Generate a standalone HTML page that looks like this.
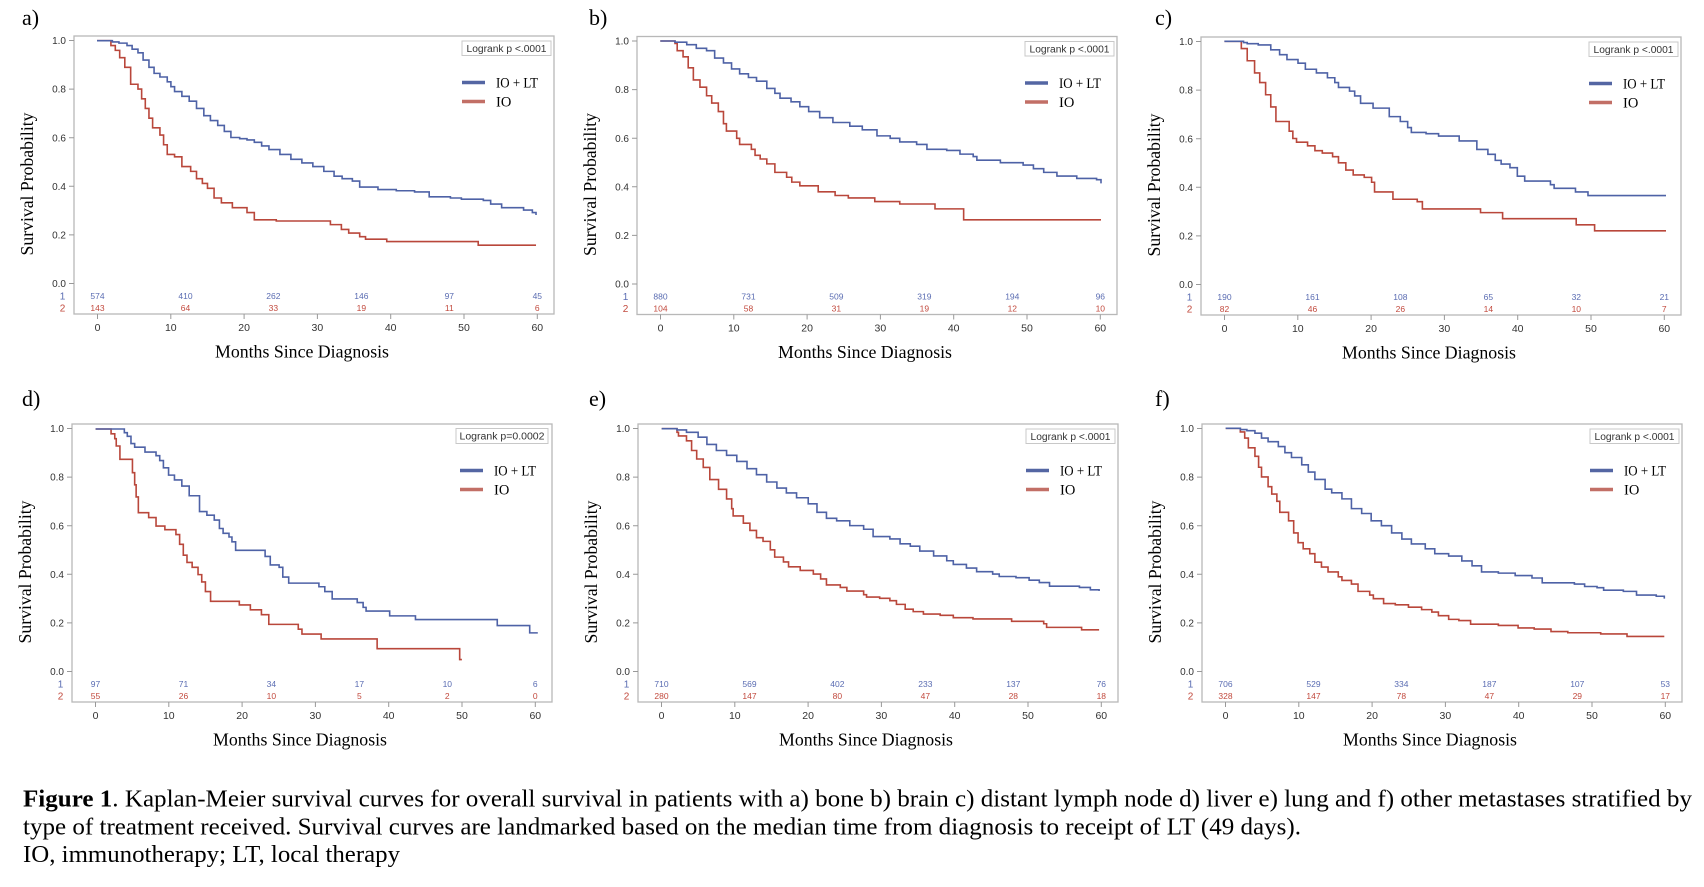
<!DOCTYPE html>
<html>
<head>
<meta charset="utf-8">
<style>
  html,body{margin:0;padding:0;background:#fff;}
  svg{display:block;}
  .tk{font-family:"Liberation Sans",Arial,sans-serif;font-size:10px;fill:#333;}
  .xt{font-family:"Liberation Sans",Arial,sans-serif;font-size:10.5px;fill:#333;text-anchor:middle;}
  .ar{font-family:"Liberation Sans",Arial,sans-serif;font-size:8.5px;text-anchor:middle;}
  .rl{font-family:"Liberation Sans",Arial,sans-serif;font-size:10px;text-anchor:middle;}
  .lg{font-family:"Liberation Sans",Arial,sans-serif;font-size:10px;fill:#333;text-anchor:middle;}
  .ser{font-family:"Liberation Serif","Times New Roman",serif;fill:#000;}
  .b{fill:#5a6cb2;} .r{fill:#c24a3e;}
  .cb{fill:none;stroke:#4e62a6;stroke-width:1.6;}
  .cr{fill:none;stroke:#b9473b;stroke-width:1.6;}
</style>
</head>
<body>
<svg width="1704" height="887" viewBox="0 0 1704 887" xmlns="http://www.w3.org/2000/svg">
<defs>
  <g id="axes">
    <rect x="0" y="0" width="480" height="278" fill="none" stroke="#b8b8b8" stroke-width="1.3"/>
    <path d="M-5 4.5H0M-5 53.1H0M-5 101.7H0M-5 150.3H0M-5 198.9H0M-5 247.5H0" stroke="#999" stroke-width="1"/>
    <path d="M23.5 278v5M96.8 278v5M170.1 278v5M243.4 278v5M316.7 278v5M390 278v5M463.3 278v5" stroke="#999" stroke-width="1"/>
    <text class="tk" text-anchor="end" x="-8" y="8.1">1.0</text>
    <text class="tk" text-anchor="end" x="-8" y="56.7">0.8</text>
    <text class="tk" text-anchor="end" x="-8" y="105.3">0.6</text>
    <text class="tk" text-anchor="end" x="-8" y="153.9">0.4</text>
    <text class="tk" text-anchor="end" x="-8" y="202.5">0.2</text>
    <text class="tk" text-anchor="end" x="-8" y="251.1">0.0</text>
    <text class="xt" x="23.5" y="295">0</text>
    <text class="xt" x="96.8" y="295">10</text>
    <text class="xt" x="170.1" y="295">20</text>
    <text class="xt" x="243.4" y="295">30</text>
    <text class="xt" x="316.7" y="295">40</text>
    <text class="xt" x="390" y="295">50</text>
    <text class="xt" x="463.3" y="295">60</text>
    <text class="rl b" x="-11.5" y="263.5">1</text>
    <text class="rl r" x="-11.5" y="275.5">2</text>
    <path d="M388 46.5H411" stroke="#5466a3" stroke-width="3.5"/>
    <path d="M388 65.5H411" stroke="#c26f66" stroke-width="3.5"/>
    <text class="ser" x="422" y="51.5" font-size="14.5" textLength="42" lengthAdjust="spacingAndGlyphs">IO + LT</text>
    <text class="ser" x="422" y="70.5" font-size="14.5">IO</text>
    <text class="ser" transform="translate(-41,148) rotate(-90)" text-anchor="middle" font-size="17.5" textLength="143" lengthAdjust="spacingAndGlyphs">Survival Probability</text>
    <text class="ser" x="228" y="321.5" text-anchor="middle" font-size="17.5" textLength="174" lengthAdjust="spacingAndGlyphs">Months Since Diagnosis</text>
  </g>
</defs>

<!-- Panel letters -->
<text class="ser" x="22" y="25" font-size="22">a)</text>
<text class="ser" x="589" y="25" font-size="22">b)</text>
<text class="ser" x="1155" y="25" font-size="22">c)</text>
<text class="ser" x="22" y="406" font-size="22">d)</text>
<text class="ser" x="589" y="406" font-size="22">e)</text>
<text class="ser" x="1155" y="406" font-size="22">f)</text>

<!-- Panel a -->
<g transform="translate(74,36)">
  <use href="#axes"/>
  <rect x="388" y="5" width="89" height="14.5" fill="#fff" stroke="#c8c8c8" stroke-width="1"/>
  <text class="lg" x="432.5" y="15.8" textLength="80" lengthAdjust="spacingAndGlyphs">Logrank p &lt;.0001</text>
  <g class="b">
    <text class="ar" x="23.5" y="263">574</text><text class="ar" x="111.5" y="263">410</text><text class="ar" x="199.4" y="263">262</text><text class="ar" x="287.4" y="263">146</text><text class="ar" x="375.3" y="263">97</text><text class="ar" x="463.3" y="263">45</text>
  </g>
  <g class="r">
    <text class="ar" x="23.5" y="275">143</text><text class="ar" x="111.5" y="275">64</text><text class="ar" x="199.4" y="275">33</text><text class="ar" x="287.4" y="275">19</text><text class="ar" x="375.3" y="275">11</text><text class="ar" x="463.3" y="275">6</text>
  </g>
  <g transform="translate(23,246.7) scale(7.317,-242)">
    <path class="cr" vector-effect="non-scaling-stroke" d="M0 1H1.9V.98H2.5V.96H3.1V.93H3.8V.89H4.6V.82H5.6V.8H6.1V.76H6.6V.72H7.1V.68H7.6V.64H8.6V.61H9.1V.57H9.6V.53H10.6V.52H11.6V.48H12.8V.46H13.6V.43H14.4V.41H15.1V.39H16V.35H17V.33H18.5V.31H20.5V.29H21.5V.26H24.5V.255H31.9V.24H33.4V.22H34.4V.205H35.9V.19H36.7V.18H39.6V.17H52.1V.155H60"/>
    <path class="cb" vector-effect="non-scaling-stroke" d="M0 1H2.1V.995H3V.99H4.1V.98H4.8V.965H5.6V.95H6.3V.92H7.1V.89H7.8V.865H8.6V.85H9.6V.83H10.1V.81H10.6V.79H11.6V.77H12.6V.75H13.6V.72H14.6V.69H15.5V.67H16.5V.65H17.4V.625H18.3V.6H19.5V.595H20.5V.59H21.5V.58H22.5V.565H23.5V.55H25V.53H26.5V.51H28V.495H29.5V.48H31V.46H32.4V.44H33.5V.43H34.9V.42H35.9V.395H38.4V.385H40.9V.38H43.4V.375H45.4V.355H48.3V.35H49.8V.345H52.8V.34H53.8V.325H55.3V.31H58.3V.3H59.5V.29H60V.28"/>
  </g>
</g>

<!-- Panel b -->
<g transform="translate(637,36.5)">
  <use href="#axes"/>
  <rect x="388" y="5" width="89" height="14.5" fill="#fff" stroke="#c8c8c8" stroke-width="1"/>
  <text class="lg" x="432.5" y="15.8" textLength="80" lengthAdjust="spacingAndGlyphs">Logrank p &lt;.0001</text>
  <g class="b">
    <text class="ar" x="23.5" y="263">880</text><text class="ar" x="111.5" y="263">731</text><text class="ar" x="199.4" y="263">509</text><text class="ar" x="287.4" y="263">319</text><text class="ar" x="375.3" y="263">194</text><text class="ar" x="463.3" y="263">96</text>
  </g>
  <g class="r">
    <text class="ar" x="23.5" y="275">104</text><text class="ar" x="111.5" y="275">58</text><text class="ar" x="199.4" y="275">31</text><text class="ar" x="287.4" y="275">19</text><text class="ar" x="375.3" y="275">12</text><text class="ar" x="463.3" y="275">10</text>
  </g>
  <g transform="translate(23.3,247.8) scale(7.345,-243.3)">
    <path class="cr" vector-effect="non-scaling-stroke" d="M0 1H2V.99H2.3V.96H3.1V.935H3.8V.89H4.5V.84H5.4V.81H6.3V.775H7V.745H7.9V.71H8.6V.66H9V.63H10.4V.6H10.8V.575H12.4V.555H12.9V.53H13.6V.515H14.5V.495H15.6V.46H17.2V.44H17.9V.42H19V.405H21.5V.38H23.8V.365H25.6V.355H29.2V.34H32.6V.33H37.4V.31H41.3V.265H60"/>
    <path class="cb" vector-effect="non-scaling-stroke" d="M0 1H2V.995H3.6V.985H4.9V.97H6.3V.96H7.4V.93H8.6V.91H9.7V.885H10.8V.865H12V.85H13.1V.835H14.5V.805H15.6V.785H16.3V.765H17.8V.75H19V.73H20.2V.71H21.7V.685H23.5V.665H25.8V.65H27.5V.635H29.5V.61H31.3V.6H32.6V.585H34.9V.575H36.3V.555H39V.55H40.8V.535H42.6V.525H43.1V.51H46.3V.5H49.4V.49H50.8V.475H52.2V.46H54V.445H56.7V.435H59.4V.43H60V.415"/>
  </g>
</g>

<!-- Panel c -->
<g transform="translate(1201,37)">
  <use href="#axes"/>
  <rect x="388" y="5" width="89" height="14.5" fill="#fff" stroke="#c8c8c8" stroke-width="1"/>
  <text class="lg" x="432.5" y="15.8" textLength="80" lengthAdjust="spacingAndGlyphs">Logrank p &lt;.0001</text>
  <g class="b">
    <text class="ar" x="23.5" y="263">190</text><text class="ar" x="111.5" y="263">161</text><text class="ar" x="199.4" y="263">108</text><text class="ar" x="287.4" y="263">65</text><text class="ar" x="375.3" y="263">32</text><text class="ar" x="463.3" y="263">21</text>
  </g>
  <g class="r">
    <text class="ar" x="23.5" y="275">82</text><text class="ar" x="111.5" y="275">46</text><text class="ar" x="199.4" y="275">26</text><text class="ar" x="287.4" y="275">14</text><text class="ar" x="375.3" y="275">10</text><text class="ar" x="463.3" y="275">7</text>
  </g>
  <g transform="translate(23.4,247.3) scale(7.36,-243)">
    <path class="cr" vector-effect="non-scaling-stroke" d="M0 1H2.3V.97H3.1V.92H4.1V.87H4.8V.83H5.6V.78H6.3V.73H7V.67H8.8V.63H9.3V.6H9.8V.585H11.3V.57H12.3V.55H13.3V.54H14.7V.525H15.5V.5H16.5V.47H17.5V.45H19V.44H20V.42H20.4V.38H22.9V.35H26.2V.34H26.9V.31H34.8V.295H37.8V.27H47.8V.245H50.3V.22H60"/>
    <path class="cb" vector-effect="non-scaling-stroke" d="M0 1H2.6V.995H3.1V.99H4.6V.985H6.3V.965H7.5V.945H8.5V.925H10V.91H11V.885H12.5V.87H14V.85H15V.83H15.5V.81H17V.795H17.7V.775H18.5V.745H20.2V.725H22.4V.69H23.9V.67H24.9V.645H25.4V.625H27.4V.62H29.1V.61H31.9V.59H34.3V.555H35.8V.535H36.8V.51H37.6V.495H38.8V.48H39.8V.445H40.8V.425H44.3V.41H44.8V.395H47.7V.38H49.4V.365H60"/>
  </g>
</g>

<!-- Panel d -->
<g transform="translate(72,424)">
  <use href="#axes"/>
  <rect x="384" y="4.5" width="92" height="15" fill="#fff" stroke="#c8c8c8" stroke-width="1"/>
  <text class="lg" x="430" y="15.6" textLength="85" lengthAdjust="spacingAndGlyphs">Logrank p=0.0002</text>
  <g class="b">
    <text class="ar" x="23.5" y="263">97</text><text class="ar" x="111.5" y="263">71</text><text class="ar" x="199.4" y="263">34</text><text class="ar" x="287.4" y="263">17</text><text class="ar" x="375.3" y="263">10</text><text class="ar" x="463.3" y="263">6</text>
  </g>
  <g class="r">
    <text class="ar" x="23.5" y="275">55</text><text class="ar" x="111.5" y="275">26</text><text class="ar" x="199.4" y="275">10</text><text class="ar" x="287.4" y="275">5</text><text class="ar" x="375.3" y="275">2</text><text class="ar" x="463.3" y="275">0</text>
  </g>
  <g transform="translate(23.6,247.7) scale(7.37,-242.7)">
    <path class="cr" vector-effect="non-scaling-stroke" d="M0 1H2.1V.98H2.6V.96H2.8V.93H3.3V.875H5V.82H5.3V.77H5.5V.72H5.8V.655H7.2V.635H8.2V.6H9.4V.585H10.9V.565H11.4V.525H11.9V.48H12.4V.45H13.1V.43H13.9V.4H14.4V.37H14.9V.33H15.6V.29H19.5V.275H21V.255H22.5V.235H23.5V.195H27.5V.175H28V.155H30.6V.135H38.2V.095H49.4V.05H49.7"/>
    <path class="cb" vector-effect="non-scaling-stroke" d="M0 1H3.9V.985H4.3V.97H4.8V.94H5.3V.925H6.7V.905H8.2V.89H8.7V.87H9.2V.84H9.9V.81H10.7V.79H11.7V.765H12.7V.725H14.1V.66H15.1V.645H16.1V.625H16.8V.59H17.3V.57H18.1V.555H18.5V.535H19V.5H23V.475H23.7V.44H24.9V.43H25.4V.39H26.2V.365H30.3V.35H31.1V.33H32.1V.3H35.5V.285H36.3V.265H36.7V.25H39.9V.23H43.4V.215H54.5V.19H58.9V.16H60"/>
  </g>
</g>

<!-- Panel e -->
<g transform="translate(638,424)">
  <use href="#axes"/>
  <rect x="388" y="5" width="89" height="14.5" fill="#fff" stroke="#c8c8c8" stroke-width="1"/>
  <text class="lg" x="432.5" y="15.8" textLength="80" lengthAdjust="spacingAndGlyphs">Logrank p &lt;.0001</text>
  <g class="b">
    <text class="ar" x="23.5" y="263">710</text><text class="ar" x="111.5" y="263">569</text><text class="ar" x="199.4" y="263">402</text><text class="ar" x="287.4" y="263">233</text><text class="ar" x="375.3" y="263">137</text><text class="ar" x="463.3" y="263">76</text>
  </g>
  <g class="r">
    <text class="ar" x="23.5" y="275">280</text><text class="ar" x="111.5" y="275">147</text><text class="ar" x="199.4" y="275">80</text><text class="ar" x="287.4" y="275">47</text><text class="ar" x="375.3" y="275">28</text><text class="ar" x="463.3" y="275">18</text>
  </g>
  <g transform="translate(23.7,247) scale(7.29,-242.3)">
    <path class="cr" vector-effect="non-scaling-stroke" d="M0 1H2.1V.985H2.3V.97H3.4V.95H4.1V.91H4.8V.875H5.7V.84H6.6V.79H7.8V.75H8.9V.71H9.6V.67H9.8V.64H11.2V.61H12.1V.58H13V.55H13.9V.535H14.9V.5H15.5V.47H16.7V.45H17.4V.43H19V.415H20.8V.4H21.8V.38H22.6V.355H24.5V.345H25.4V.33H27.7V.315H28.1V.305H29.9V.3H31.3V.29H32.2V.275H33.4V.255H34.5V.245H35.9V.235H38.2V.23H40V.22H42.7V.215H48V.205H52.4V.195H52.8V.18H57.6V.17H60"/>
    <path class="cb" vector-effect="non-scaling-stroke" d="M0 1H2.1V.995H3.4V.985H5V.965H6.2V.935H7.5V.91H8.9V.89H10.3V.865H11.7V.835H13V.81H14.4V.78H15.8V.755H17.1V.735H18.5V.715H20.1V.69H21.3V.655H22.6V.63H24V.62H25.8V.6H27.7V.585H29V.555H31.3V.545H32.7V.525H34.1V.515H35.4V.495H37.3V.475H39.1V.455H40V.44H41.8V.425H43.2V.41H45.4V.4H46.3V.39H48.6V.385H50.4V.375H51.8V.365H53.2V.35H57.3V.345H58.8V.335H60V.33"/>
  </g>
</g>

<!-- Panel f -->
<g transform="translate(1202,424)">
  <use href="#axes"/>
  <rect x="388" y="5" width="89" height="14.5" fill="#fff" stroke="#c8c8c8" stroke-width="1"/>
  <text class="lg" x="432.5" y="15.8" textLength="80" lengthAdjust="spacingAndGlyphs">Logrank p &lt;.0001</text>
  <g class="b">
    <text class="ar" x="23.5" y="263">706</text><text class="ar" x="111.5" y="263">529</text><text class="ar" x="199.4" y="263">334</text><text class="ar" x="287.4" y="263">187</text><text class="ar" x="375.3" y="263">107</text><text class="ar" x="463.3" y="263">53</text>
  </g>
  <g class="r">
    <text class="ar" x="23.5" y="275">328</text><text class="ar" x="111.5" y="275">147</text><text class="ar" x="199.4" y="275">78</text><text class="ar" x="287.4" y="275">47</text><text class="ar" x="375.3" y="275">29</text><text class="ar" x="463.3" y="275">17</text>
  </g>
  <g transform="translate(23.7,247.7) scale(7.31,-243.4)">
    <path class="cr" vector-effect="non-scaling-stroke" d="M0 1H2V.985H2.6V.96H3.1V.92H4V.885H4.5V.84H4.9V.8H5.8V.76H6.3V.73H7V.7H7.4V.655H8.6V.62H9.3V.57H9.9V.53H10.6V.505H11.5V.485H12.2V.45H13.1V.43H14V.41H15.4V.39H15.9V.375H17.2V.36H18.1V.33H19.7V.315H20.2V.3H21.6V.28H23.2V.275H25V.265H26.8V.255H28.2V.245H29.1V.23H30.5V.215H31.9V.21H33.5V.195H37.3V.19H40V.18H42.2V.175H44.5V.165H46.8V.16H51.3V.155H54.9V.145H60"/>
    <path class="cb" vector-effect="non-scaling-stroke" d="M0 1H2V.995H2.9V.99H4V.98H4.9V.96H5.8V.945H7.2V.925H8.1V.9H9V.88H10.4V.85H11.3V.82H12.2V.79H13.6V.75H14.5V.735H15.9V.71H17.2V.67H18.6V.65H19.9V.62H21.3V.6H22.7V.57H24.1V.545H25.4V.525H27.3V.505H28.6V.485H30.5V.475H32.3V.455H33.7V.435H35V.41H37.3V.405H39.6V.395H41.9V.385H43.3V.365H47.7V.36H49.1V.35H50.8V.345H51.7V.335H54.4V.33H56.2V.315H58.9V.31H60V.3"/>
  </g>
</g>

<!-- Caption -->
<text class="ser" x="23" y="806.5" font-size="24" textLength="1669" lengthAdjust="spacingAndGlyphs"><tspan font-weight="bold">Figure 1</tspan>. Kaplan-Meier survival curves for overall survival in patients with a) bone b) brain c) distant lymph node d) liver e) lung and f) other metastases stratified by</text>
<text class="ser" x="23" y="834.3" font-size="24" textLength="1278" lengthAdjust="spacingAndGlyphs">type of treatment received. Survival curves are landmarked based on the median time from diagnosis to receipt of LT (49 days).</text>
<text class="ser" x="23" y="862" font-size="24" textLength="377" lengthAdjust="spacingAndGlyphs">IO, immunotherapy; LT, local therapy</text>
</svg>
</body>
</html>
